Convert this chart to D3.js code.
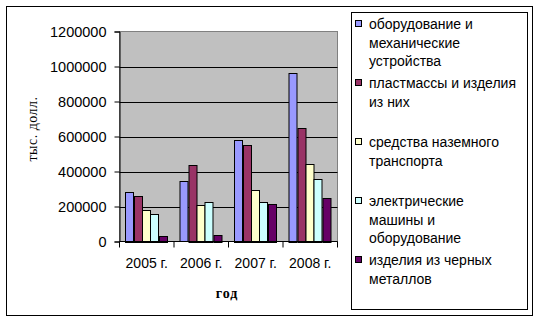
<!DOCTYPE html>
<html>
<head>
<meta charset="utf-8">
<script src="https://cdn.jsdelivr.net/npm/d3@7"></script>
<style>
  body { margin: 0; background: #fff; }
  svg text { font-family: "Liberation Sans", Arial, sans-serif; }
</style>
</head>
<body>
<div id="chart"></div>
<script>
// data
var years = ["2005 г.", "2006 г.", "2007 г.", "2008 г."];
var seriesNames = [
    ["оборудование и", "механические", "устройства"],
    ["пластмассы и изделия", "из них"],
    ["средства наземного", "транспорта"],
    ["электрические", "машины и", "оборудование"],
    ["изделия из черных", "металлов"]
];
var equipment = [285000, 345000, 582000, 964000];
var plastics  = [261000, 438000, 552000, 650000];
var transport = [181000, 210000, 295000, 444000];
var electric  = [158000, 227000, 227000, 358000];
var ferrous   = [32000, 38000, 215000, 250000];
var yTicks = [0, 200000, 400000, 600000, 800000, 1000000, 1200000];
var colors = ["#9999ff", "#993366", "#ffffcc", "#ccffff", "#660066"];

var values = [equipment, plastics, transport, electric, ferrous];

var w = 540, h = 324;
var svg = d3.select("#chart").append("svg")
    .attr("width", w)
    .attr("height", h);

// outer frame
svg.append("rect")
    .attr("x", 6.5).attr("y", 6.5)
    .attr("width", 526).attr("height", 309)
    .style("fill", "#fff")
    .style("stroke", "#000");

var pLeft = 119.5, pRight = 337.5, pTop = 31.5, pBottom = 241.5;

var x0 = d3.scaleBand().domain(years).range([pLeft, pRight]).padding(0);
var x1 = d3.scaleBand().domain(d3.range(5)).range([0, x0.bandwidth()])
    .paddingInner(0).paddingOuter(0.78);
var y = d3.scaleLinear().domain([0, 1200000]).range([pBottom, pTop]);

// plot area
svg.append("rect")
    .attr("x", pLeft).attr("y", pTop)
    .attr("width", pRight - pLeft).attr("height", pBottom - pTop)
    .style("fill", "#c0c0c0")
    .style("stroke", "#808080");

// gridlines
svg.append("g").selectAll("line")
    .data(yTicks.filter(function(d) { return d > 0 && d < 1200000; }))
    .enter().append("line")
    .attr("x1", pLeft).attr("x2", pRight)
    .attr("y1", function(d) { return Math.round(y(d)) + 0.5; })
    .attr("y2", function(d) { return Math.round(y(d)) + 0.5; })
    .style("stroke", "#000");

// bars
var groups = svg.append("g").selectAll("g")
    .data(years)
    .enter().append("g")
    .attr("transform", function(d) { return "translate(" + x0(d) + ",0)"; });

groups.selectAll("rect")
    .data(function(d, i) { return values.map(function(s, k) { return { k: k, v: s[i] }; }); })
    .enter().append("rect")
    .attr("x", function(d) { return Math.round(x1(d.k)); })
    .attr("y", function(d) { return Math.round(y(d.v)) + 0.5; })
    .attr("width", Math.round(x1.bandwidth()))
    .attr("height", function(d) { return Math.round(pBottom - y(d.v)); })
    .style("fill", function(d) { return colors[d.k]; })
    .style("stroke", "#000");

// y axis
var yAxis = d3.axisLeft(y).tickValues(yTicks).tickSize(5).tickPadding(8)
    .tickFormat(d3.format("d"));
var gy = svg.append("g").attr("transform", "translate(" + pLeft + ",0)").call(yAxis);
gy.select(".domain").style("stroke", "#000");
gy.selectAll(".tick line").style("stroke", "#000");
gy.selectAll("text")
    .style("font-family", "Liberation Sans, Arial, sans-serif")
    .style("font-size", "14.5px")
    .style("fill", "#000");

// x axis
svg.append("line")
    .attr("x1", pLeft).attr("x2", pRight)
    .attr("y1", pBottom).attr("y2", pBottom)
    .style("stroke", "#000");
svg.append("g").selectAll("line")
    .data(years.map(function(d) { return x0(d); }).concat([pRight]))
    .enter().append("line")
    .attr("x1", function(d) { return d; }).attr("x2", function(d) { return d; })
    .attr("y1", pBottom).attr("y2", pBottom + 6)
    .style("stroke", "#000");
svg.append("g").selectAll("text")
    .data(years)
    .enter().append("text")
    .attr("x", function(d) { return x0(d) + x0.bandwidth() / 2; })
    .attr("y", 268)
    .attr("text-anchor", "middle")
    .style("font-size", "14px")
    .text(function(d) { return d; });

// axis titles
svg.append("text")
    .attr("x", 227).attr("y", 298)
    .attr("text-anchor", "middle")
    .style("font-family", "Liberation Serif, Times New Roman, serif")
    .style("font-size", "14px")
    .style("font-weight", "bold")
    .style("letter-spacing", "1px")
    .text("год");
svg.append("text")
    .attr("transform", "translate(37,129) rotate(-90)")
    .attr("text-anchor", "middle")
    .style("font-family", "Liberation Serif, Times New Roman, serif")
    .style("font-size", "14px")
    .style("letter-spacing", "0.5px")
    .text("тыс. долл.");

// legend
var legend = svg.append("g").attr("class", "legend");
legend.append("rect")
    .attr("x", 351.5).attr("y", 12.5)
    .attr("width", 176).attr("height", 297)
    .style("fill", "#fff")
    .style("stroke", "#000");

legend.selectAll("g").data(seriesNames)
    .enter()
    .append("g")
    .each(function(d, i) {
        var g = d3.select(this);
        var y0 = 24 + i * 59;
        g.append("rect")
            .attr("x", 355.5).attr("y", y0 - 3.5)
            .attr("width", 6).attr("height", 6)
            .style("fill", colors[i])
            .style("stroke", "#000");
        d.forEach(function(line, j) {
            g.append("text")
                .attr("x", 369)
                .attr("y", y0 + j * 18.5 + 5)
                .style("font-size", "14px")
                .text(line);
        });
    });
</script>
</body>
</html>
